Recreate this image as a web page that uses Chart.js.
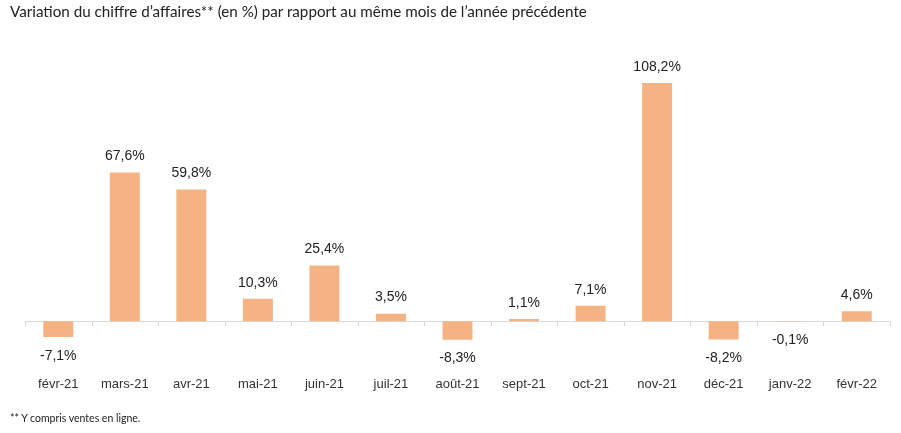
<!DOCTYPE html>
<html lang="fr">
<head>
<meta charset="utf-8">
<script src="https://cdn.jsdelivr.net/npm/chart.js@4/dist/chart.umd.min.js"></script>
<style>
    html, body { margin: 0; padding: 0; background: #fff; }
    .wrap { position: relative; width: 901px; height: 433px; }
    #chart { position: absolute; left: 0; top: 0; }
    .title {
        position: absolute; left: 10px; top: 2px;
        font-family: Lato, "Open Sans", sans-serif; font-size: 15.2px; color: #222;
        white-space: nowrap;
    }
    .note {
        position: absolute; left: 10px; top: 412px;
        font-family: Lato, "Open Sans", sans-serif; font-size: 10.5px; color: #222;
    }
</style>
</head>
<body>
<div class="wrap">
    <canvas id="chart" width="901" height="433"></canvas>
    <div class="title">Variation du chiffre d’affaires** (en %) par rapport au même mois de l’année précédente</div>
    <div class="note">** Y compris ventes en ligne.</div>
</div>
<script>
const months = ['févr-21', 'mars-21', 'avr-21', 'mai-21', 'juin-21', 'juil-21', 'août-21',
    'sept-21', 'oct-21', 'nov-21', 'déc-21', 'janv-22', 'févr-22'];
const variation = [-7.1, 67.6, 59.8, 10.3, 25.4, 3.5, -8.3, 1.1, 7.1, 108.2, -8.2, -0.1, 4.6];

const fmt = v => v.toFixed(1).replace('.', ',') + '%';

// zero line with small tick marks between categories
const zeroAxis = {
    id: 'zeroAxis',
    beforeDatasetsDraw(chart) {
        const { ctx, chartArea, scales: { x, y } } = chart;
        const y0 = Math.round(y.getPixelForValue(0)) + 0.5;
        const half = (x.getPixelForValue(1) - x.getPixelForValue(0)) / 2;
        ctx.save();
        ctx.strokeStyle = '#d9d9d9';
        ctx.lineWidth = 1;
        ctx.beginPath();
        ctx.moveTo(chartArea.left, y0);
        ctx.lineTo(chartArea.right, y0);
        for (let i = 0; i <= months.length; i++) {
            const px = Math.round(x.getPixelForValue(i) - half) + 0.5;
            ctx.moveTo(px, y0);
            ctx.lineTo(px, y0 + 5);
        }
        ctx.stroke();
        ctx.restore();
    }
};

// value labels above / below bars
const valueLabels = {
    id: 'valueLabels',
    afterDatasetsDraw(chart) {
        const { ctx } = chart;
        const meta = chart.getDatasetMeta(0);
        ctx.save();
        ctx.font = '14px "Liberation Sans", Arial, sans-serif';
        ctx.fillStyle = '#222';
        ctx.textAlign = 'center';
        ctx.textBaseline = 'middle';
        meta.data.forEach((bar, i) => {
            const v = variation[i];
            const ty = v >= 0 ? bar.y - 16 : bar.y + 19;
            ctx.fillText(fmt(v), bar.x, ty);
        });
        ctx.restore();
    }
};

new Chart(document.getElementById('chart'), {
    type: 'bar',
    data: {
        labels: months,
        datasets: [{
            data: variation,
            backgroundColor: '#f5b283',
            barPercentage: 0.6,
            categoryPercentage: 0.75
        }]
    },
    options: {
        responsive: false,
        animation: false,
        layout: { padding: { left: 25, right: 11, top: 57, bottom: 38 } },
        plugins: {
            legend: { display: false },
            tooltip: { enabled: false }
        },
        scales: {
            x: {
                grid: { display: false },
                border: { display: false },
                ticks: {
                    color: '#333',
                    padding: 3,
                    font: { family: '"Liberation Sans", Arial, sans-serif', size: 13 }
                }
            },
            y: {
                display: false,
                min: -20,
                max: 120
            }
        }
    },
    plugins: [zeroAxis, valueLabels]
});
</script>
</body>
</html>
